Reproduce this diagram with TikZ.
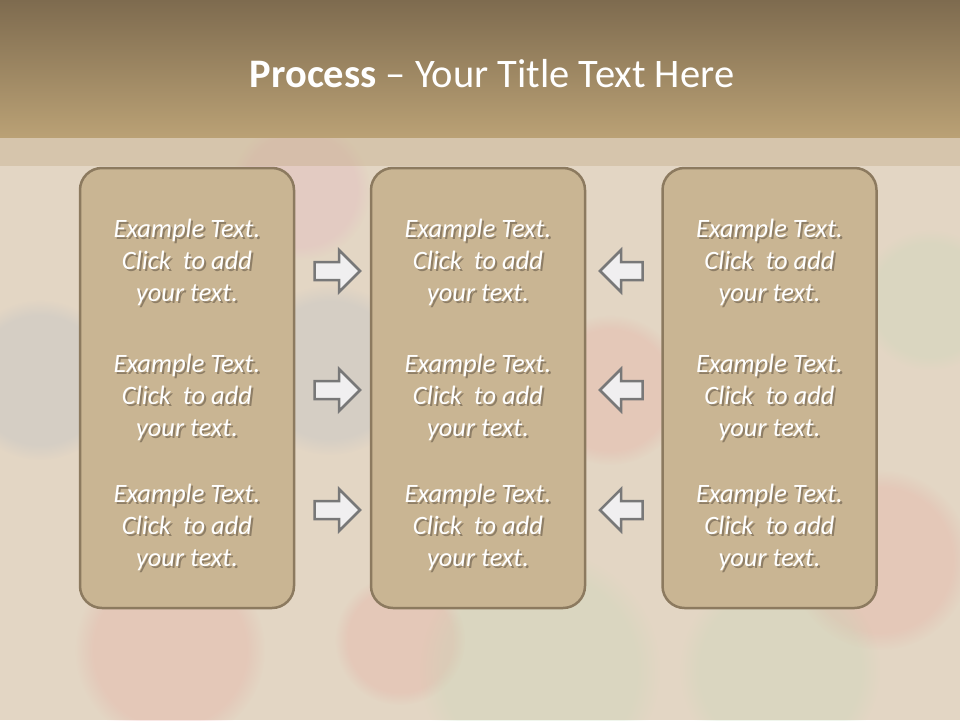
\documentclass[tikz,border=0pt]{standalone}
\usepackage{fontspec}
\setmainfont{Carlito}
\usetikzlibrary{fadings}
\definecolor{bgbase}{HTML}{E3D6C4}
\definecolor{titletop}{HTML}{7E6B4F}
\definecolor{titlebot}{HTML}{BAA175}
\definecolor{boxfill}{HTML}{C9B593}
\definecolor{boxline}{HTML}{8C7A5F}
\definecolor{arrfill}{HTML}{F0EFF0}
\definecolor{arrline}{HTML}{787878}
\definecolor{shadowcol}{HTML}{8E7E66}
\definecolor{blobred}{HTML}{E89C94}
\definecolor{blobgreen}{HTML}{BFD8B4}
\definecolor{blobblue}{HTML}{A9B6C8}
\definecolor{blobpink}{HTML}{E7A9BE}
\newcommand{\shd}[1]{\leavevmode\rlap{\hspace{2pt}\raisebox{-2pt}{\textcolor{shadowcol}{#1}}}#1}
\newcommand{\boxcontent}{\shd{Example Text.}\\\shd{Click\ \ to add}\\\shd{your text.}}
\begin{document}
\begin{tikzpicture}[x=1pt,y=-1pt,
  blob/.style={opacity=0.24,path fading=circle with fuzzy edge 20 percent},
  procbox/.style={draw=boxline,fill=boxfill,line width=2.5pt,rounded corners=22pt,
    minimum width=214pt,minimum height=440pt,inner sep=0pt},
  boxtext/.style={align=center,text=white,inner sep=0pt,
    font=\fontsize{26.5}{32}\selectfont\itshape},
  arrowshape/.style={draw=arrline,fill=arrfill,line width=2.5pt,line join=miter},
  titletext/.style={text=white,font=\fontsize{40.5}{48}\selectfont,inner sep=0pt}
]
\useasboundingbox (0,0) rectangle (960,720);
% background
\fill[bgbase] (0,0) rectangle (960,720);
\fill[blobpink,blob] (300,190) circle (70);
\fill[blobblue,blob] (330,370) circle (85);
\fill[blobred,blob] (610,390) circle (75);
\fill[blobred,blob] (880,560) circle (90);
\fill[blobred,blob] (170,650) circle (95);
\fill[blobred,blob] (400,640) circle (65);
\fill[blobgreen,blob] (540,670) circle (120);
\fill[blobgreen,blob] (780,670) circle (100);
\fill[blobblue,blob] (40,380) circle (80);
\fill[blobgreen,blob] (930,300) circle (70);
% title bar
\shade[top color=titletop,bottom color=titlebot] (0,0) rectangle (960,137);
\fill[titlebot,opacity=0.3] (0,137) rectangle (960,166);
\node[titletext] (title) at (492,74) {\textbf{Process} – Your Title Text Here};
% boxes
\node[procbox] (b1) at (187,388) {};
\node[procbox] (b2) at (478,388) {};
\node[procbox] (b3) at (769.5,388) {};
% texts
\foreach \bx/\cx in {1/187,2/478,3/769.5}{
  \foreach \r/\cy in {1/263,2/398,3/528}{
    \node[boxtext] (t\bx\r) at (\cx,\cy) {\boxcontent};
  }
}
% arrows
\foreach \r/\cy in {1/271,2/390,3/510}{
  \draw[arrowshape] (314.5,\cy-9) -- (339,\cy-9) -- (339,\cy-21) -- (360,\cy)
     -- (339,\cy+21) -- (339,\cy+9) -- (314.5,\cy+9) -- cycle;
  \draw[arrowshape] (642.5,\cy-9) -- (621,\cy-9) -- (621,\cy-21) -- (600,\cy)
     -- (621,\cy+21) -- (621,\cy+9) -- (642.5,\cy+9) -- cycle;
}
\end{tikzpicture}
\end{document}
